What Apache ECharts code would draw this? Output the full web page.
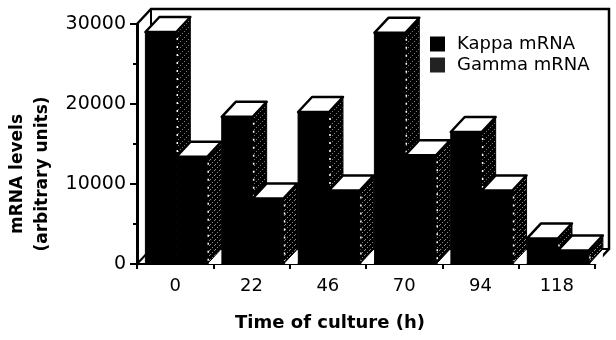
<!DOCTYPE html>
<html>
<head>
<meta charset="utf-8">
<style>html,body{margin:0;padding:0;background:#fff}#c{width:616px;height:340px}</style>
<script src="https://cdn.jsdelivr.net/npm/echarts@6/dist/echarts.min.js"></script>
</head>
<body>
<div id="c"></div>
<script>
const categories = ['0', '22', '46', '70', '94', '118'];
const kappa = [29000, 18400, 19000, 28900, 16500, 3200];
const gamma = [13400, 8200, 9200, 13600, 9200, 1700];
const yTicks = { min: 0, max: 30000, interval: 10000 };

const DX = 14, DY = -15;
const FONT = 'DejaVu Sans';

function hatch(gap, ink) {
  const c = document.createElement('canvas');
  c.width = c.height = gap;
  const g = c.getContext('2d');
  g.fillStyle = '#000';
  g.fillRect(0, 0, gap, gap);
  g.fillStyle = ink;
  for (let i = 0; i < gap; i += 2) g.fillRect(i, gap - 1 - i, 1, 1);
  return c;
}
const kappaSide = { image: hatch(6, '#777'), repeat: 'repeat' };
const gammaSide = { image: hatch(5, '#888'), repeat: 'repeat' };

function barRenderer(offsetFrac, sideFill) {
  return function (params, api) {
    const cat = api.value(0), val = api.value(1);
    const band = api.size([1, 0])[0];
    const base = api.coord([cat, 0]);
    const top = api.coord([cat, val]);
    const w = band * 0.405;
    const x0 = base[0] - band / 2 + band * offsetFrac;
    const x1 = x0 + w;
    const yT = top[1], yB = base[1];
    const black = { fill: '#000', stroke: '#000', lineWidth: 1 };
    return {
      type: 'group',
      children: [
        { type: 'polygon', shape: { points: [[x1, yT], [x1 + DX, yT + DY], [x1 + DX, yB + DY], [x1, yB]] },
          style: { fill: sideFill, stroke: '#000', lineWidth: 1 } },
        { type: 'polygon', shape: { points: [[x1 + 1, yB], [x1 + DX, yB + DY + 1], [x1 + DX, yB]] },
          style: { fill: '#fff' } },
        { type: 'rect', shape: { x: x0, y: yT, width: w, height: yB - yT }, style: black },
        { type: 'polygon', shape: { points: [[x0, yT], [x0 + DX, yT + DY], [x1 + DX, yT + DY], [x1, yT]] },
          style: { fill: '#fff', stroke: '#000', lineWidth: 2.5, lineJoin: 'round' } },
        { type: 'line', shape: { x1: x1 + 1, y1: yT + 6, x2: x1 + 1, y2: yB - 3 },
          style: { stroke: '#fff', lineWidth: 1.5, lineDash: [2, 6] } }
      ]
    };
  };
}

function frameRenderer(params, api) {
  const r = params.coordSys;
  const L = r.x, T = r.y, R = r.x + r.width, B = r.y + r.height;
  const st = { stroke: '#000', lineWidth: 2.5, fill: null };
  return {
    type: 'group',
    children: [
      { type: 'polyline', shape: { points: [[L, T], [L + DX, T + DY], [R + DX, T + DY], [R + DX, B + DY], [R, B]] }, style: st },
      { type: 'polyline', shape: { points: [[L + DX, T + DY], [L + DX, B + DY], [R + DX, B + DY]] }, style: { stroke: '#000', lineWidth: 2, fill: null } },
      { type: 'line', shape: { x1: L, y1: B, x2: L + DX, y2: B + DY }, style: { stroke: '#000', lineWidth: 2 } }
    ]
  };
}

const chart = echarts.init(document.getElementById('c'), null, { renderer: 'canvas' });
chart.setOption({
  animation: false,
  backgroundColor: '#fff',
  textStyle: { fontFamily: FONT, color: '#000' },
  grid: { left: 137, right: 21, top: 24, bottom: 76, outerBoundsMode: 'none' },
  legend: {
    data: ['Kappa mRNA', 'Gamma mRNA'],
    orient: 'vertical',
    left: 425,
    top: 30,
    itemWidth: 15,
    itemHeight: 15,
    itemGap: 3,
    icon: 'rect',
    selectedMode: false,
    textStyle: { fontFamily: FONT, fontSize: 18, color: '#000', padding: [0, 0, 0, 7] }
  },
  xAxis: {
    type: 'category',
    data: categories,
    name: 'Time of culture (h)',
    nameLocation: 'middle',
    nameGap: 50,
    nameTextStyle: { fontFamily: FONT, fontSize: 18, fontWeight: 'bold', color: '#000', padding: [0, 72, 0, 0] },
    axisLine: { lineStyle: { color: '#000', width: 2 } },
    axisTick: { show: true, length: 5, lineStyle: { color: '#000', width: 2 } },
    axisLabel: { fontFamily: FONT, fontSize: 18, color: '#000', margin: 13 }
  },
  yAxis: {
    type: 'value',
    min: yTicks.min,
    max: yTicks.max,
    interval: yTicks.interval,
    name: 'mRNA levels\n(arbitrary units)',
    nameLocation: 'middle',
    nameGap: 77,
    nameRotate: 90,
    nameTextStyle: { fontFamily: FONT, fontSize: 17, fontWeight: 'bold', color: '#000', lineHeight: 25, padding: [0, 60, 0, 0] },
    axisLine: { show: true, lineStyle: { color: '#000', width: 3 } },
    axisTick: { show: true, length: 7, lineStyle: { color: '#000', width: 2 } },
    minorTick: { show: true, splitNumber: 2, length: 4, lineStyle: { color: '#000', width: 2 } },
    splitLine: { show: false },
    axisLabel: { fontFamily: FONT, fontSize: 19, color: '#000', margin: 11, formatter: function (v) { return String(v); } }
  },
  series: [
    { type: 'custom', name: 'frame', silent: true, z: 1, renderItem: frameRenderer, data: [[0, 0]], encode: { x: 0, y: 1 } },
    { type: 'custom', name: 'Kappa mRNA', z: 2, itemStyle: { color: '#000' }, renderItem: barRenderer(0.11, kappaSide),
      data: kappa.map((v, i) => [i, v]), encode: { x: 0, y: 1 } },
    { type: 'custom', name: 'Gamma mRNA', z: 3, itemStyle: { color: '#222' }, renderItem: barRenderer(0.515, gammaSide),
      data: gamma.map((v, i) => [i, v]), encode: { x: 0, y: 1 } }
  ]
});
</script>
</body>
</html>
